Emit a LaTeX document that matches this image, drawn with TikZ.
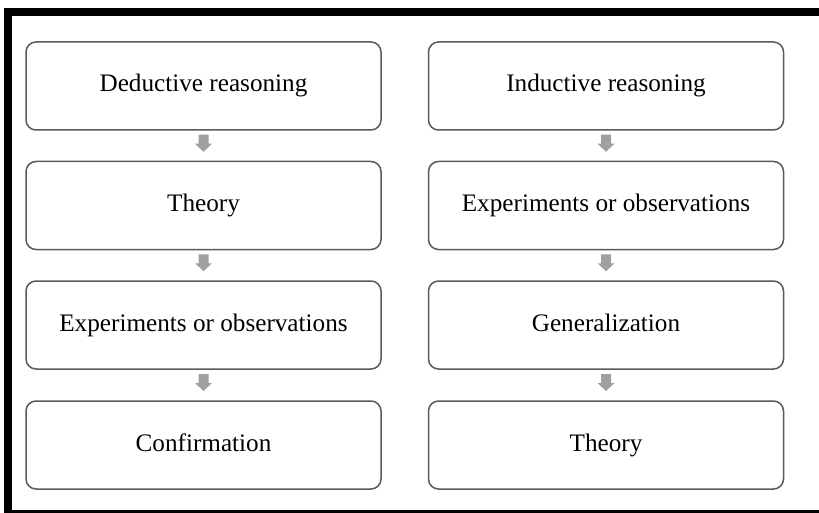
\documentclass[tikz,border=0pt]{standalone}
\usepackage{fontspec}
\setmainfont{Liberation Serif}
\usetikzlibrary{calc}
\definecolor{boxgray}{HTML}{5A5A5A}
\definecolor{arrowgray}{HTML}{A0A0A0}
\newcommand\blockarr[2]{%
  \fill[arrowgray] ($(#1.south)!0.5!(#2.north)+(0,-11)$) coordinate (tmp)
    ++(-5,0) -- ++(10,0) -- ++(0,9) -- ++(3.5,0) -- ++(-8.5,8) -- ++(-8.5,-8) -- ++(3.5,0) -- cycle;}
\begin{document}
\begin{tikzpicture}[x=1pt,y=-1pt,
  box/.style={draw=boxgray, line width=1.5pt, rounded corners=10pt, fill=white,
    minimum width=355pt, minimum height=88pt, inner sep=0pt,
    text height=17pt, text depth=5pt,
    font=\fontsize{25.2}{28}\selectfont}]
\useasboundingbox (0,0) rectangle (819,513);
\fill[white] (0,0) rectangle (819,513);
% frame
\fill[black] (4,8) rectangle (819,16);
\fill[black] (4,8) rectangle (12,513);
\fill[black] (4,510) rectangle (819,513);
% left column
\node[box] (l1) at (203.5,86) {Deductive reasoning};
\node[box] (l2) at (203.5,205.5) {Theory};
\node[box] (l3) at (203.5,325) {Experiments or observations};
\node[box] (l4) at (203.5,445) {Confirmation};
% right column
\node[box] (r1) at (606,86) {Inductive reasoning};
\node[box] (r2) at (606,205.5) {Experiments or observations};
\node[box] (r3) at (606,325) {Generalization};
\node[box] (r4) at (606,445) {Theory};
% arrows
\blockarr{l1}{l2}
\blockarr{l2}{l3}
\blockarr{l3}{l4}
\blockarr{r1}{r2}
\blockarr{r2}{r3}
\blockarr{r3}{r4}
\end{tikzpicture}
\end{document}
